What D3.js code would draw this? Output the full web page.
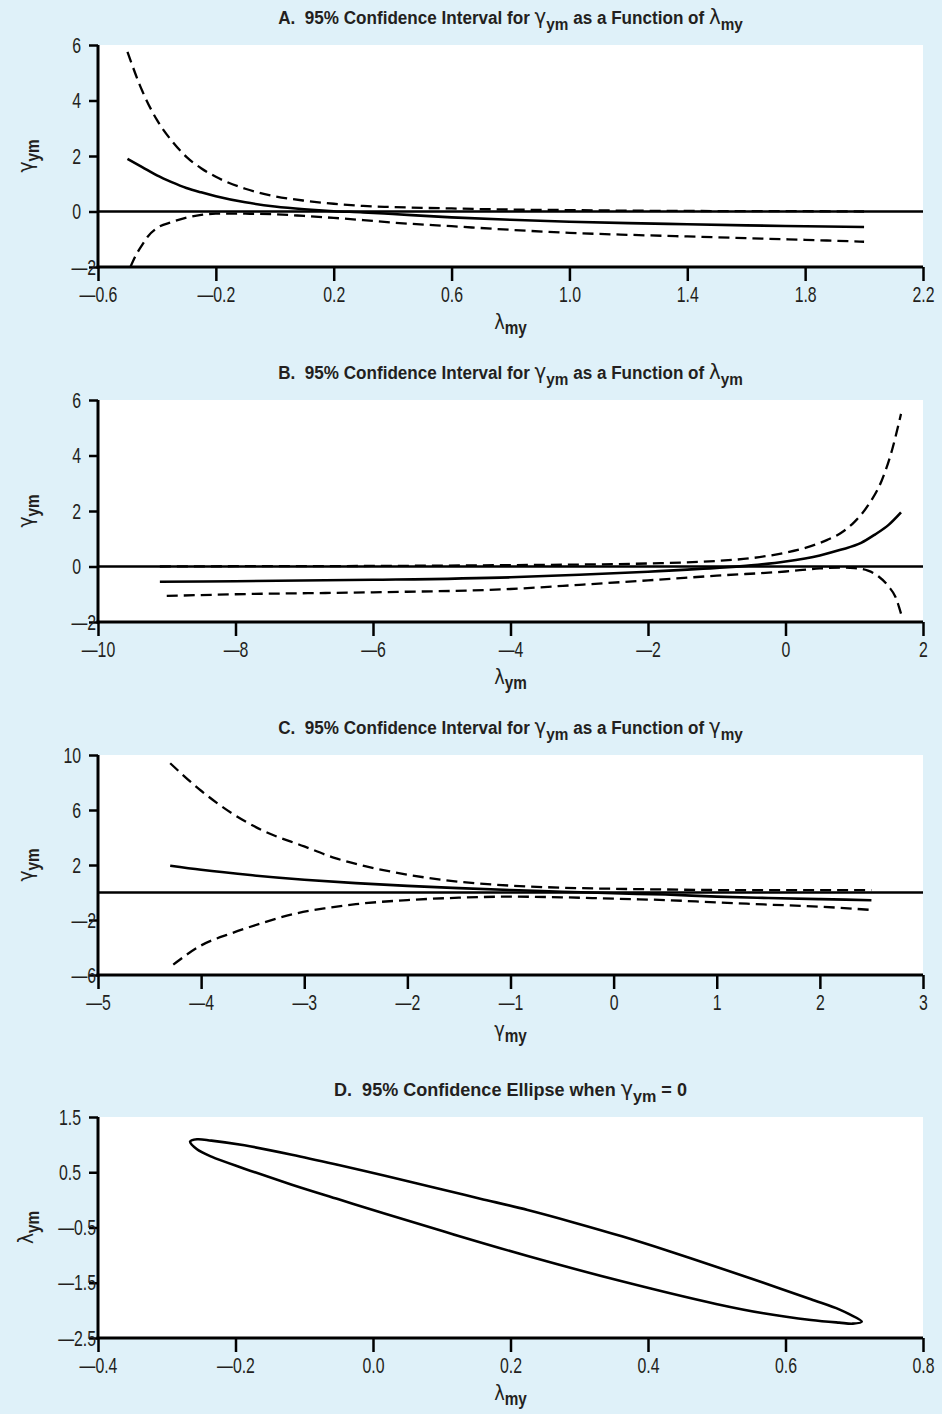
<!DOCTYPE html>
<html>
<head>
<meta charset="utf-8">
<script src="https://cdn.jsdelivr.net/npm/d3@7"></script>
<style>
  body { margin: 0; background: #dff1f9; }
  svg { display: block; font-family: "Liberation Sans", Arial, sans-serif; }
</style>
</head>
<body>
<div id="chart"></div>
<script>
// ---- panel A: gamma_ym vs lambda_my
const aEstimate = [[-0.5,1.9],[-0.45,1.6],[-0.4,1.3],[-0.35,1.06],[-0.3,0.85],[-0.25,0.69],[-0.2,0.55],[-0.1,0.33],[0,0.18],[0.1,0.08],[0.2,0.01],[0.3,-0.03],[0.4,-0.09],[0.6,-0.21],[0.8,-0.3],[1.0,-0.37],[1.2,-0.42],[1.4,-0.46],[1.6,-0.5],[1.8,-0.53],[2.0,-0.56]];
const aUpper = [[-0.5,5.75],[-0.45,4.35],[-0.4,3.3],[-0.35,2.55],[-0.3,1.97],[-0.25,1.56],[-0.2,1.25],[-0.1,0.82],[0,0.55],[0.1,0.39],[0.2,0.28],[0.3,0.2],[0.4,0.16],[0.6,0.11],[0.8,0.07],[1.0,0.05],[1.2,0.03],[1.4,0.02],[1.6,0.01],[1.8,0.01],[2.0,0.0]];
const aLower = [[-0.49,-2.0],[-0.47,-1.55],[-0.45,-1.2],[-0.43,-0.89],[-0.4,-0.6],[-0.35,-0.38],[-0.3,-0.22],[-0.25,-0.12],[-0.2,-0.08],[-0.1,-0.08],[0,-0.1],[0.1,-0.16],[0.2,-0.23],[0.3,-0.31],[0.4,-0.4],[0.6,-0.53],[0.8,-0.66],[1.0,-0.77],[1.2,-0.84],[1.4,-0.9],[1.6,-0.96],[1.8,-1.02],[2.0,-1.09]];
const aXTicks = [-0.6,-0.2,0.2,0.6,1.0,1.4,1.8,2.2];
const aYTicks = [-2,0,2,4,6];

// ---- panel B: gamma_ym vs lambda_ym
const bEstimate = [[-9.1,-0.55],[-8,-0.53],[-6,-0.48],[-4,-0.39],[-3,-0.3],[-2,-0.19],[-1,-0.05],[-0.5,0.04],[0,0.18],[0.5,0.4],[0.8,0.6],[1.1,0.85],[1.3,1.15],[1.5,1.5],[1.68,1.95]];
const bUpper = [[-9.1,0.0],[-8,0.01],[-6,0.02],[-4,0.05],[-3,0.07],[-2,0.11],[-1,0.2],[-0.5,0.3],[0,0.5],[0.3,0.68],[0.6,0.95],[0.8,1.2],[1.0,1.6],[1.2,2.2],[1.4,3.1],[1.55,4.2],[1.68,5.5]];
const bLower = [[-9.0,-1.06],[-8,-1.0],[-6,-0.93],[-4,-0.81],[-3,-0.66],[-2,-0.5],[-1,-0.33],[0,-0.18],[0.5,-0.07],[0.8,-0.04],[1.0,-0.06],[1.2,-0.15],[1.35,-0.35],[1.5,-0.72],[1.6,-1.1],[1.68,-1.7]];
const bXTicks = [-10,-8,-6,-4,-2,0,2];
const bYTicks = [-2,0,2,4,6];

// ---- panel C: gamma_ym vs gamma_my
const cEstimate = [[-4.3,1.95],[-4,1.65],[-3.5,1.25],[-3,0.93],[-2.5,0.68],[-2,0.48],[-1.5,0.32],[-1,0.18],[-0.5,0.06],[0,-0.06],[0.5,-0.15],[1,-0.3],[1.5,-0.4],[2,-0.48],[2.5,-0.56]];
const cUpper = [[-4.3,9.4],[-4.0,7.4],[-3.7,5.75],[-3.4,4.5],[-3.0,3.35],[-2.7,2.5],[-2.4,1.9],[-2.0,1.3],[-1.5,0.78],[-1.0,0.5],[-0.5,0.35],[0,0.27],[0.5,0.22],[1,0.18],[1.5,0.18],[2,0.18],[2.5,0.18]];
const cLower = [[-4.27,-5.25],[-4.0,-3.85],[-3.7,-2.95],[-3.4,-2.2],[-3.1,-1.56],[-2.8,-1.15],[-2.5,-0.85],[-2.0,-0.55],[-1.5,-0.38],[-1.0,-0.3],[-0.5,-0.35],[0,-0.45],[0.5,-0.55],[1,-0.72],[1.5,-0.88],[2,-1.03],[2.5,-1.27]];
const cXTicks = [-5,-4,-3,-2,-1,0,1,2,3];
const cYTicks = [-6,-2,2,6,10];

// ---- panel D: confidence ellipse (lambda_my, lambda_ym), upper edge then lower edge
const dEllipse = [[-0.266,1.053],[-0.256,1.096],[-0.235,1.072],[-0.187,0.987],[-0.118,0.818],[-0.05,0.631],[0.019,0.432],[0.087,0.227],[0.156,0.022],[0.225,-0.183],[0.293,-0.412],[0.362,-0.66],[0.431,-0.93],[0.499,-1.21],[0.568,-1.5],[0.637,-1.8],[0.678,-1.981],[0.692,-2.065],[0.711,-2.204],
  [0.698,-2.24],[0.678,-2.222],[0.637,-2.174],[0.568,-2.053],[0.499,-1.884],[0.362,-1.474],[0.225,-1.016],[0.115,-0.617],[0.019,-0.256],[-0.05,0.01],[-0.118,0.275],[-0.187,0.565],[-0.235,0.782],[-0.256,0.915]];
const dXTicks = [-0.4,-0.2,0.0,0.2,0.4,0.6,0.8];
const dYTicks = [-2.5,-1.5,-0.5,0.5,1.5];

const W = 942, H = 1414;
const left = 98, right = 923;
const ink = "#231f20";
const squeeze = 0.72;   // the original uses a condensed face

const svg = d3.select("#chart").append("svg")
  .attr("width", W).attr("height", H);

const fmt1 = d => (d < 0 ? "\u2014" : "") + Math.abs(d).toFixed(1);
const fmt0 = d => (d < 0 ? "\u2014" : "") + Math.abs(d);

// greek letter + bold subscript
function symbol(sel, greek, sub, size, subSize) {
  sel.append("tspan").attr("font-family", "DejaVu Sans").attr("font-weight", "normal")
    .attr("font-size", size).text(greek);
  sel.append("tspan").attr("font-weight", "bold").attr("font-size", subSize)
    .attr("dy", size * 0.25).text(sub);
}

function narrowText(parent, x, y, sx, rot) {
  return parent.append("text")
    .attr("transform", `translate(${x},${y})${rot ? " rotate(" + rot + ")" : ""} scale(${sx},1)`)
    .attr("text-anchor", "middle").attr("fill", ink);
}

const panels = [
  { letter: "A.", top: 45, bottom: 267, xd: [-0.6, 2.2], yd: [-2, 6], xt: aXTicks, yt: aYTicks, xf: fmt1, yf: fmt0,
    ttl: ["\u03b3", "ym", "\u03bb", "my"], xl: ["\u03bb", "my"], yl: ["\u03b3", "ym"], zero: true,
    series: [{ d: aUpper, dash: true }, { d: aEstimate }, { d: aLower, dash: true }] },
  { letter: "B.", top: 400, bottom: 622, xd: [-10, 2], yd: [-2, 6], xt: bXTicks, yt: bYTicks, xf: fmt0, yf: fmt0,
    ttl: ["\u03b3", "ym", "\u03bb", "ym"], xl: ["\u03bb", "ym"], yl: ["\u03b3", "ym"], zero: true,
    series: [{ d: bUpper, dash: true }, { d: bEstimate }, { d: bLower, dash: true }] },
  { letter: "C.", top: 755, bottom: 975, xd: [-5, 3], yd: [-6, 10], xt: cXTicks, yt: cYTicks, xf: fmt0, yf: fmt0,
    ttl: ["\u03b3", "ym", "\u03b3", "my"], xl: ["\u03b3", "my"], yl: ["\u03b3", "ym"], zero: true,
    series: [{ d: cUpper, dash: true }, { d: cEstimate }, { d: cLower, dash: true }] },
  { letter: "D.", top: 1117, bottom: 1338, xd: [-0.4, 0.8], yd: [-2.5, 1.5], xt: dXTicks, yt: dYTicks, xf: fmt1, yf: fmt1,
    xl: ["\u03bb", "my"], yl: ["\u03bb", "ym"], zero: false, ellipse: true,
    series: [{ d: dEllipse, closed: true }] }
];

panels.forEach((p, i) => {
  const g = svg.append("g");
  const x = d3.scaleLinear().domain(p.xd).range([left, right]);
  const y = d3.scaleLinear().domain(p.yd).range([p.bottom, p.top]);

  g.append("rect").attr("x", left).attr("y", p.top)
    .attr("width", right - left).attr("height", p.bottom - p.top).attr("fill", "#fff");

  // title
  const t = narrowText(g, (left + right) / 2, p.top - 21, p.ellipse ? 0.95 : 0.9)
    .attr("font-weight", "bold").attr("font-size", 19);
  t.append("tspan").text(p.letter + "\u00a0 95% Confidence ");
  if (p.ellipse) {
    t.append("tspan").text("Ellipse when ");
    symbol(t, "\u03b3", "ym", 22, 17);
    t.append("tspan").attr("dy", -22 * 0.25).text(" = 0");
  } else {
    t.append("tspan").text("Interval for ");
    symbol(t, p.ttl[0], p.ttl[1], 22, 17);
    t.append("tspan").attr("dy", -22 * 0.25).text(" as a Function of ");
    symbol(t, p.ttl[2], p.ttl[3], 22, 17);
  }

  const clipId = "clip" + i;
  g.append("clipPath").attr("id", clipId).append("rect")
    .attr("x", left).attr("y", p.top - 2).attr("width", right - left).attr("height", p.bottom - p.top + 2);

  if (p.zero) {
    g.append("line").attr("x1", left).attr("x2", right).attr("y1", y(0)).attr("y2", y(0))
      .attr("stroke", "#000").attr("stroke-width", 2.4);
  }

  const line = d3.line().x(d => x(d[0])).y(d => y(d[1])).curve(d3.curveMonotoneX);
  const closedLine = d3.line().x(d => x(d[0])).y(d => y(d[1])).curve(d3.curveCatmullRomClosed.alpha(0.5));

  p.series.forEach(s => {
    g.append("path").attr("clip-path", `url(#${clipId})`)
      .attr("d", s.closed ? closedLine(s.d) : line(s.d))
      .attr("fill", "none").attr("stroke", "#000")
      .attr("stroke-width", s.dash ? 2.3 : 2.6)
      .attr("stroke-linejoin", "round")
      .attr("stroke-dasharray", s.dash ? "11,6" : null);
  });

  // axes
  const xAxis = g.append("g").attr("transform", `translate(0,${p.bottom})`)
    .call(d3.axisBottom(x).tickValues(p.xt).tickFormat(p.xf).tickSize(14).tickSizeOuter(0).tickPadding(5));
  const yAxis = g.append("g").attr("transform", `translate(${left},0)`)
    .call(d3.axisLeft(y).tickValues(p.yt).tickFormat(p.yf).tickSize(9).tickSizeOuter(0));

  [xAxis, yAxis].forEach(a => {
    a.select(".domain").attr("stroke", "#000").attr("stroke-width", 3);
    a.selectAll(".tick line").attr("stroke", "#000").attr("stroke-width", 2.5);
    a.selectAll(".tick text").attr("font-family", null).attr("font-size", 22).attr("fill", ink)
      .attr("transform", `scale(${squeeze},1)`);
  });
  yAxis.select(".domain").attr("d", `M0,${p.top}V${p.bottom + 1.5}`);
  xAxis.select(".domain").attr("d", `M${left - 1.5},0H${right}`);
  // negative y labels sit over the tick in the original
  yAxis.selectAll(".tick text").attr("x", d => (d < 0 ? -2 : -17) / squeeze);

  // axis titles
  const xl = narrowText(g, (left + right) / 2, p.bottom + 62, 0.85);
  symbol(xl, p.xl[0], p.xl[1], 21, 18);

  const yl = narrowText(g, 33, (p.top + p.bottom) / 2, 0.85, -90);
  symbol(yl, p.yl[0], p.yl[1], 22, 18);
});
</script>
</body>
</html>
